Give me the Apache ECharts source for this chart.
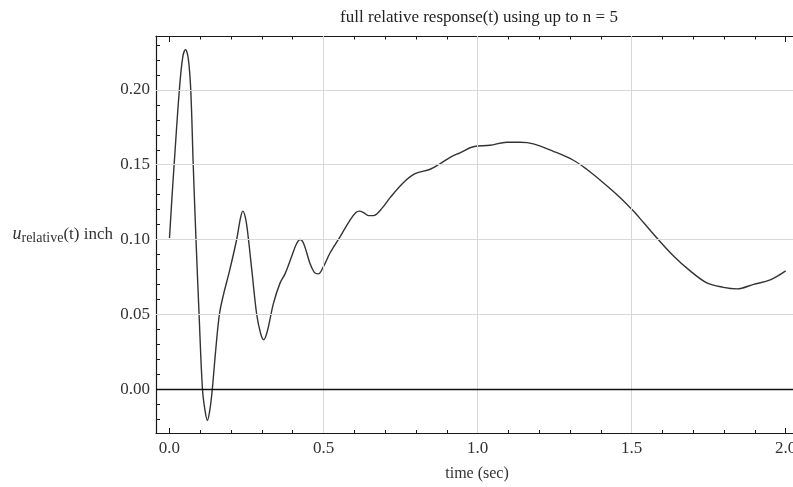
<!DOCTYPE html>
<html><head><meta charset="utf-8">
<script src="https://cdn.jsdelivr.net/npm/echarts@6/dist/echarts.min.js"></script>
<style>html,body{margin:0;padding:0;background:#fff}#c{width:793px;height:487px}</style>
</head><body><div id="c"></div>
<script>
const timeValues = [0.000,0.008,0.015,0.032,0.043,0.052,0.061,0.069,0.077,0.086,0.096,0.107,0.115,0.123,0.131,0.139,0.150,0.162,0.175,0.196,0.218,0.230,0.238,0.246,0.253,0.268,0.283,0.296,0.306,0.318,0.337,0.359,0.375,0.397,0.412,0.424,0.436,0.456,0.470,0.483,0.500,0.521,0.554,0.586,0.605,0.616,0.630,0.646,0.662,0.690,0.716,0.759,0.797,0.846,0.873,0.911,0.943,0.986,1.040,1.095,1.138,1.181,1.246,1.311,1.354,1.408,1.463,1.506,1.540,1.582,1.636,1.690,1.744,1.798,1.842,1.896,1.950,2.000];
const responseValues = [0.101,0.128,0.150,0.200,0.222,0.227,0.221,0.200,0.150,0.100,0.050,0.000,-0.014,-0.021,-0.014,0.000,0.026,0.050,0.063,0.080,0.100,0.114,0.119,0.115,0.106,0.078,0.050,0.037,0.033,0.039,0.057,0.071,0.077,0.089,0.097,0.100,0.097,0.084,0.078,0.077,0.082,0.091,0.102,0.113,0.118,0.119,0.118,0.116,0.116,0.121,0.128,0.138,0.144,0.147,0.150,0.155,0.158,0.162,0.163,0.165,0.165,0.164,0.159,0.153,0.147,0.138,0.128,0.119,0.111,0.101,0.089,0.079,0.071,0.068,0.067,0.070,0.073,0.079];

const xMajorTicks = [0, 0.5, 1.0, 1.5, 2.0];
const xMinorTicks = [0.1,0.2,0.3,0.4,0.6,0.7,0.8,0.9,1.1,1.2,1.3,1.4,1.6,1.7,1.8,1.9];
const yMajorTicks = [0, 0.05, 0.10, 0.15, 0.20];
const yMinorTicks = [-0.02,-0.01,0.01,0.02,0.03,0.04,0.06,0.07,0.08,0.09,0.11,0.12,0.13,0.14,0.16,0.17,0.18,0.19,0.21,0.22,0.23];
const xGridLines = [0.5, 1.0, 1.5];
const yGridLines = [0.05, 0.10, 0.15, 0.20];
const zeroLine = [0];

const titleText = 'full relative response(t) using up to n = 5';
const xName = 'time (sec)';

const X_MIN = -0.0438, X_MAX = 2.04, Y_MIN = -0.0294, Y_MAX = 0.2361;
const FONT = '"Liberation Serif", "Times New Roman", serif';
const FRAME = '#1a1a1a';

function xAxisDef(pos, ticks, len, showLine, showLabel) {
  return {
    type: 'value', min: X_MIN, max: X_MAX, position: pos, gridIndex: 0,
    axisLine: { show: showLine, onZero: false, lineStyle: { color: FRAME, width: 1.2 } },
    axisTick: { show: true, inside: true, length: len, customValues: ticks, lineStyle: { color: FRAME, width: 1 } },
    axisLabel: showLabel ? { show: true, customValues: ticks, margin: 7, color: '#333', fontFamily: FONT, fontSize: 17,
      formatter: v => Number(v).toFixed(1) } : { show: false },
    splitLine: { show: false }
  };
}
function yAxisDef(pos, ticks, len, showLine, showLabel) {
  return {
    type: 'value', min: Y_MIN, max: Y_MAX, position: pos, gridIndex: 0,
    axisLine: { show: showLine, onZero: false, lineStyle: { color: FRAME, width: 1.2 } },
    axisTick: { show: true, inside: true, length: len, customValues: ticks, lineStyle: { color: FRAME, width: 1 } },
    axisLabel: showLabel ? { show: true, customValues: ticks, margin: 6, color: '#333', fontFamily: FONT, fontSize: 17,
      formatter: v => Number(v).toFixed(2) } : { show: false },
    splitLine: { show: false }
  };
}

const xA = xAxisDef('bottom', xMajorTicks, 5, true, true);
xA.name = xName;
xA.nameLocation = 'middle';
xA.nameGap = 33;
xA.nameTextStyle = { color: '#333', fontFamily: FONT, fontSize: 16 };

const yA = yAxisDef('left', yMajorTicks, 7, true, true);
yA.name = '{u|u}{sub|relative}{n|(t) inch}';
yA.nameLocation = 'middle';
yA.nameRotate = 0;
yA.nameGap = 43;
yA.nameTextStyle = {
  color: '#333', fontFamily: FONT, fontSize: 17, align: 'right',
  rich: {
    u: { fontFamily: FONT, fontSize: 18, fontStyle: 'italic', color: '#333' },
    sub: { fontFamily: FONT, fontSize: 14, color: '#333', padding: [7, 0, 0, 0] },
    n: { fontFamily: FONT, fontSize: 17, color: '#333' }
  }
};

const chart = echarts.init(document.getElementById('c'), null, { renderer: 'canvas' });
chart.setOption({
  animation: false,
  backgroundColor: '#fff',
  title: {
    text: titleText, left: 479, top: 9, padding: 0, textAlign: 'center',
    textStyle: { fontFamily: FONT, fontSize: 17, fontWeight: 'normal', color: '#222' }
  },
  grid: { left: 156, top: 36, width: 642, height: 397, containLabel: false, outerBoundsMode: 'none' },
  xAxis: [
    xA,
    xAxisDef('bottom', xMinorTicks, 3, false, false),
    xAxisDef('top', xMajorTicks, 6, true, false),
    xAxisDef('top', xMinorTicks, 3.5, false, false)
  ],
  yAxis: [
    yA,
    yAxisDef('left', yMinorTicks, 4, false, false),
    yAxisDef('right', yMajorTicks, 7, true, false),
    yAxisDef('right', yMinorTicks, 4, false, false)
  ],
  series: [
    {
      type: 'line', xAxisIndex: 0, yAxisIndex: 0, z: 1, silent: true,
      data: [], showSymbol: false,
      markLine: {
        silent: true, symbol: 'none', label: { show: false }, animation: false,
        lineStyle: { color: '#d8d8d8', type: 'solid', width: 1 },
        data: xGridLines.map(v => ({ xAxis: v })).concat(yGridLines.map(v => ({ yAxis: v })))
      }
    },
    {
      type: 'line', xAxisIndex: 0, yAxisIndex: 0, z: 2, silent: true,
      data: [], showSymbol: false,
      markLine: {
        silent: true, symbol: 'none', label: { show: false }, animation: false,
        lineStyle: { color: '#111', type: 'solid', width: 1.3 },
        data: zeroLine.map(v => ({ yAxis: v }))
      }
    },
    {
      type: 'line', xAxisIndex: 0, yAxisIndex: 0, z: 3,
      data: timeValues.map((t, i) => [t, responseValues[i]]),
      showSymbol: false, smooth: 0.35,
      lineStyle: { color: '#333', width: 1.4 }
    }
  ]
});
</script></body></html>
